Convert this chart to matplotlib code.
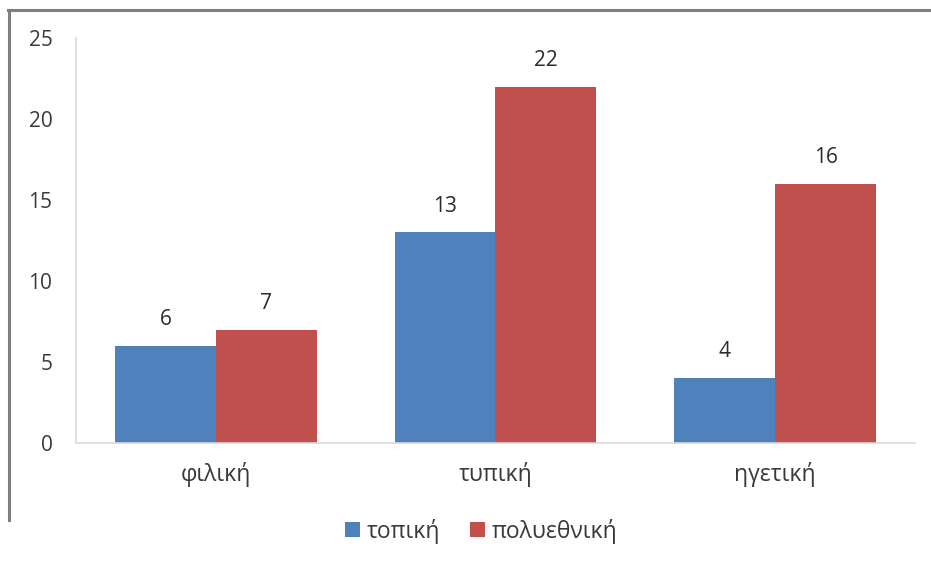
import matplotlib
matplotlib.use("Agg")
import matplotlib.pyplot as plt
from matplotlib.lines import Line2D
import numpy as np

plt.rcParams['font.family'] = ['Open Sans', 'DejaVu Sans']

categories = ["φιλική", "τυπική", "ηγετική"]
series_names = ["τοπική", "πολυεθνική"]
local_vals = [6, 13, 4]
multi_vals = [7, 22, 16]
y_ticks = [0, 5, 10, 15, 20, 25]

blue = "#4F81BD"
red = "#C0504D"
text_col = "#3a3a3a"

fig = plt.figure(figsize=(9.31, 5.66), dpi=100)
ax = fig.add_axes([76 / 931, 1 - 443 / 566, (915 - 76) / 931, (443 - 38) / 566])

x = np.arange(len(categories))
w = 0.361
b1 = ax.bar(x - w / 2, local_vals, w, color=blue, label=series_names[0])
b2 = ax.bar(x + w / 2, multi_vals, w, color=red, label=series_names[1])

for bars, vals in ((b1, local_vals), (b2, multi_vals)):
    for rect, v in zip(bars, vals):
        ax.annotate(str(v), (rect.get_x() + rect.get_width() / 2, v),
                    xytext=(0, 19), textcoords="offset points",
                    ha="center", va="center", fontsize=15, color="#2a2a2a")

ax.set_xlim(-0.5, 2.5)
ax.set_ylim(0, 25)
ax.set_yticks(y_ticks)
ax.set_yticklabels([str(t) for t in y_ticks], fontsize=15, color=text_col)
ax.set_xticks(x)
ax.set_xticklabels(categories, fontsize=16.5, color=text_col)
ax.tick_params(axis="both", length=0)
ax.tick_params(axis="y", pad=17)
ax.tick_params(axis="x", pad=14)

for s in ("top", "right"):
    ax.spines[s].set_visible(False)
for s in ("left", "bottom"):
    ax.spines[s].set_color("#d9d9d9")
    ax.spines[s].set_linewidth(1.2)

fig.legend(handles=[b1, b2], labels=series_names, loc="center",
           bbox_to_anchor=(481 / 931, 1 - 531 / 566), ncol=2, frameon=False,
           fontsize=16.5, handlelength=0.65, handleheight=0.65,
           handletextpad=0.3, columnspacing=1.3, labelcolor=text_col)

# outer chart frame (top and left edges)
fig.add_artist(Line2D([9 / 931, 9 / 931], [1 - 10 / 566, 1 - 520 / 566],
                      transform=fig.transFigure, color="#7f7f7f", lw=2.2))
fig.add_artist(Line2D([8 / 931, 1.0], [1 - 10 / 566, 1 - 10 / 566],
                      transform=fig.transFigure, color="#7f7f7f", lw=2.2))

fig.savefig("out.png", dpi=100)
